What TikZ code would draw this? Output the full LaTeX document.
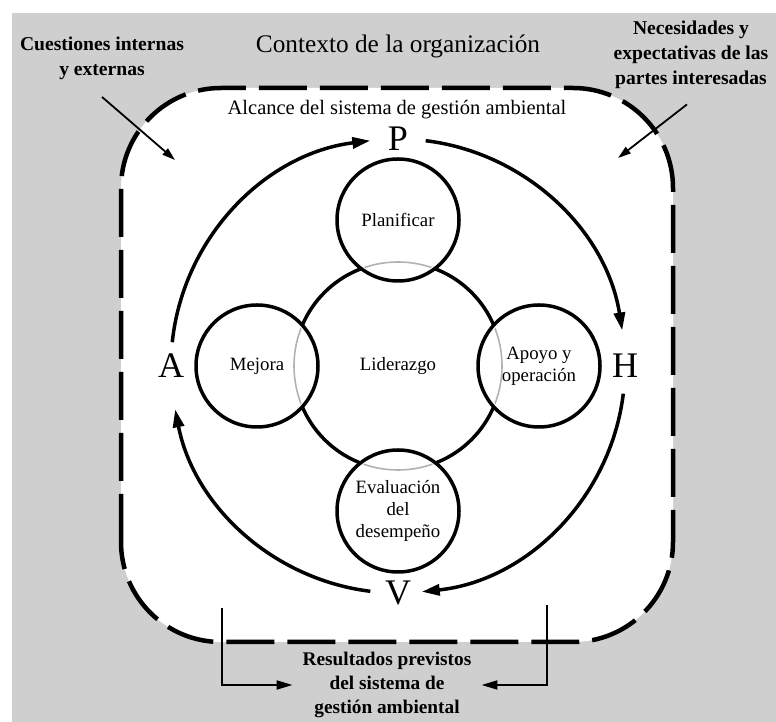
\documentclass[tikz,border=0pt]{standalone}
\usepackage{fontspec}
\setmainfont{Liberation Serif}
\usetikzlibrary{arrows.meta}

\begin{document}
\begin{tikzpicture}[x=1pt, y=1pt,
    stage/.style={circle, draw, line width=3.5pt, fill=white, minimum size=122pt,
        inner sep=0pt, align=center, font=\fontsize{18.8}{22}\selectfont},
    pdca/.style={line width=3.5pt, -{Triangle[length=18pt,width=11pt]}},
    corner/.style={align=center, font=\bfseries\fontsize{19.6}{25}\selectfont},
    letter/.style={font=\fontsize{36}{36}\selectfont, inner sep=0pt},
    inarrow/.style={line width=1.8pt, -{Triangle[length=13pt,width=8pt]}},
    outarrow/.style={line width=2pt, -{Triangle[length=16pt,width=9pt]}}]

    % Canvas and grey surround
    \useasboundingbox (0,0) rectangle (776,722);
    \fill[black!19] (12,0) rectangle (776,709);

    % Scope of the management system
    \draw[line width=4.5pt, dash pattern=on 48pt off 13pt, rounded corners=100pt, fill=white]
        (121,80) rectangle (673,634);

    % Labels round the box
    \node[font=\fontsize{25.3}{30}\selectfont] (ctx) at (398,676) {Contexto de la organización};
    \node[corner] (cue) at (102,664) {Cuestiones internas\\y externas};
    \node[corner] (nec) at (691,667) {Necesidades y\\expectativas de las\\partes interesadas};
    \node[font=\fontsize{20.5}{24}\selectfont] (alc) at (397,612) {Alcance del sistema de gestión ambiental};
    \node[corner, inner sep=10pt, font=\bfseries\fontsize{19.3}{24}\selectfont] (res) at (387,37)
        {Resultados previstos\\del sistema de\\gestión ambiental};

    % Inputs
    \coordinate (cuein) at (175,562);
    \coordinate (necin) at (618,564);
    \draw[inarrow] (cue.south) ++(0,-14) -- (cuein);
    \draw[inarrow] (nec.south) ++(-4,-12) -- (necin);

    % Outputs
    \coordinate (outl) at (222,114);
    \coordinate (outr) at (547,117);
    \draw[outarrow] (outl) |- (res.west);
    \draw[outarrow] (outr) |- (res.east);

    % PDCA letters
    \coordinate (O) at (398,356);
    \node[letter] (P) at (398,583) {P};
    \node[letter] (H) at (625,356) {H};
    \node[letter] (V) at (398,129) {V};
    \node[letter] (A) at (171,356) {A};

    % PDCA arcs
    \draw[pdca] (O) ++(174:227) arc[start angle=174, end angle=97, radius=227];
    \draw[pdca] (O) ++(83:227) arc[start angle=83, end angle=9, radius=227];
    \draw[pdca] (O) ++(-7:227) arc[start angle=-7, end angle=-84, radius=227];
    \draw[pdca] (O) ++(-97:227) arc[start angle=-97, end angle=-169, radius=227];

    % Leadership and the four stages
    \node[circle, draw, line width=3.5pt, minimum size=208pt,
        font=\fontsize{18.8}{22}\selectfont] (lid) at (O) {Liderazgo};
    \node[stage] (plan) at (398,502) {Planificar};
    \node[stage] (apo) at (539,356) {Apoyo y\\operación};
    \node[stage] (eva) at (398,211) {Evaluación\\del\\desempeño};
    \node[stage] (mej) at (257,356) {Mejora};

    % Leadership circle seen through the stages
    \begin{scope}
        \clip (plan) circle (58) (apo) circle (58) (eva) circle (58) (mej) circle (58);
        \draw[black!30, line width=1.6pt] (O) circle (104);
    \end{scope}
\end{tikzpicture}
\end{document}
